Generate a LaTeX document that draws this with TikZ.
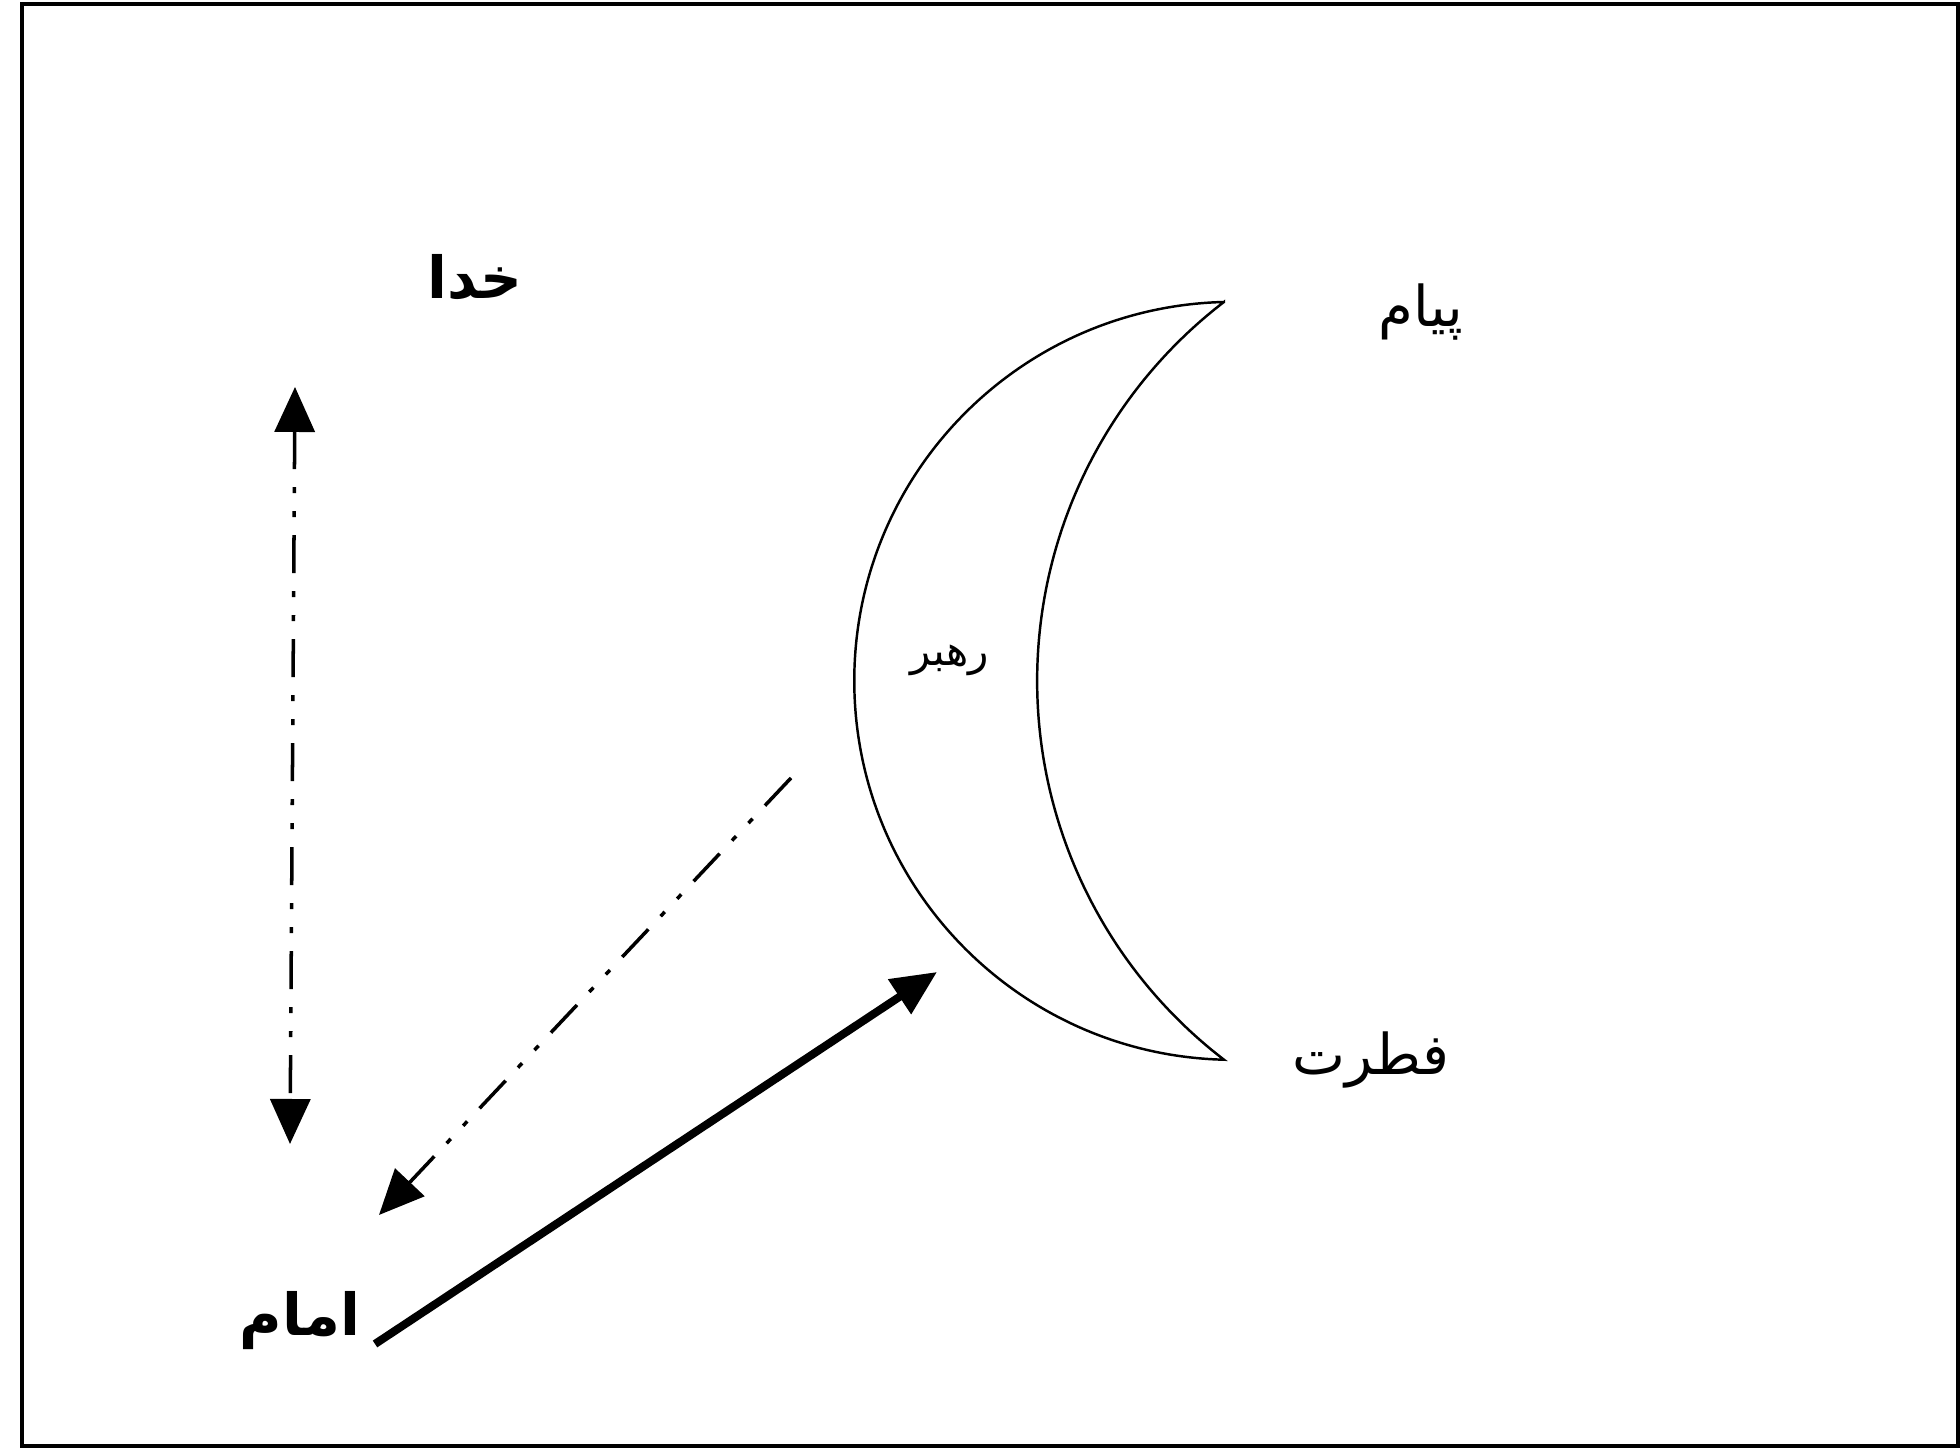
\documentclass[tikz,border=0pt]{standalone}
\usepackage{fontspec}
\newfontfamily\arabicfont[Script=Arabic]{DejaVu Sans}
\TeXXeTstate=1
\usetikzlibrary{arrows.meta}

\begin{document}
\begin{tikzpicture}[line width=0.7pt,
  dashdotdot/.style={line width=1pt, dash pattern=on 0.38cm off 0.18cm on 0.06cm off 0.18cm on 0.06cm off 0.18cm},
  headtip/.style={-{Triangle[length=0.45cm,width=0.4cm]}},
  lbl/.style={font=\arabicfont\fontsize{16}{18}\selectfont},
  boldlbl/.style={font=\arabicfont\bfseries\fontsize{16.5}{19}\selectfont}]
  \useasboundingbox (0,0) rectangle (19.6,14.5);
  % frame
  \draw[line width=1pt] (0.22,0.04) rectangle (19.58,14.46);
  % crescent
  \draw (12.24,11.48) arc[start angle=91.4, end angle=268.6, radius=3.79]
        arc[start angle=232.5, end angle=127.5, radius=4.776] -- cycle;
  % labels
  \node[boldlbl] (khoda) at (4.75,11.73) {\beginR خدا\endR};
  \node[lbl] (payam) at (14.21,11.38) {\beginR پیام\endR};
  \node[lbl, font=\arabicfont\fontsize{12}{14}\selectfont] (rahbar) at (9.50,7.90) {\beginR رهبر\endR};
  \node[lbl] (fetrat) at (13.71,3.90) {\beginR فطرت\endR};
  \node[boldlbl] (emam) at (3.00,1.29) {\beginR امام\endR};
  % arrow ends
  \coordinate (vtop) at (2.95,10.63);
  \coordinate (vbot) at (2.90,3.06);
  \coordinate (dfrom) at (7.91,6.72);
  \coordinate (dto) at (3.79,2.35);
  \coordinate (sfrom) at (3.75,1.06);
  \coordinate (sto) at (9.37,4.78);
  % arrows
  \draw[dashdotdot, {Triangle[length=0.45cm,width=0.4cm]}-{Triangle[length=0.45cm,width=0.4cm]}] (vtop) -- (vbot);
  \draw[dashdotdot, headtip] (dfrom) -- (dto);
  \draw[line width=2.3pt, headtip] (sfrom) -- (sto);
\end{tikzpicture}
\end{document}
